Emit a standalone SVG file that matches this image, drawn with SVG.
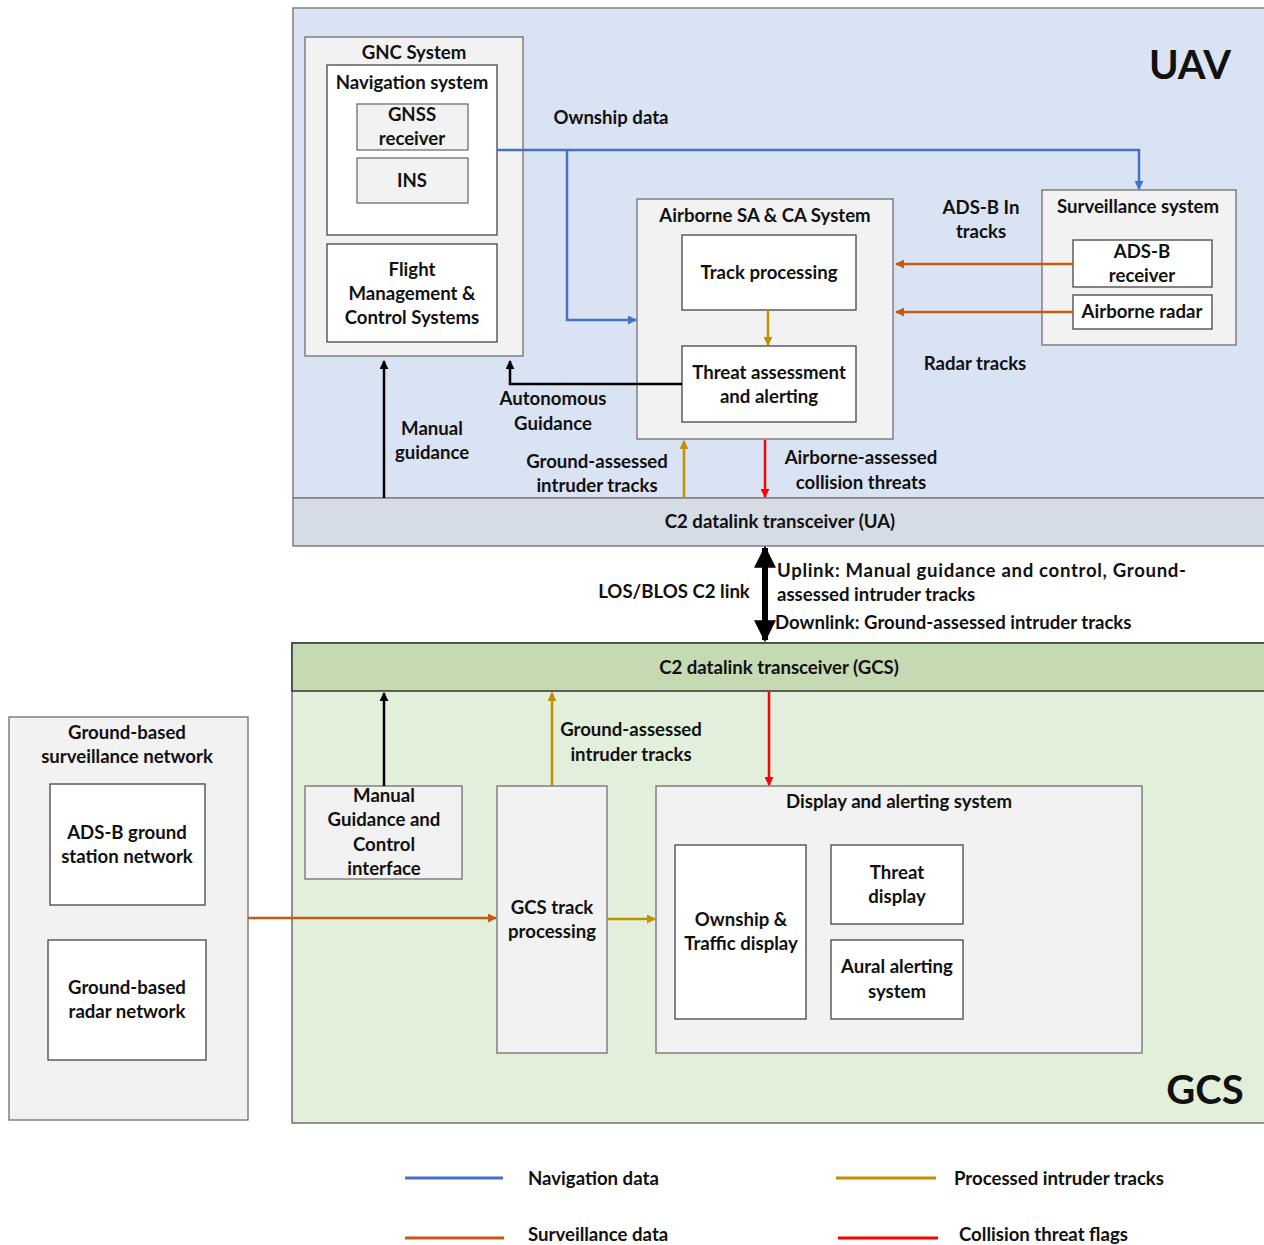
<svg xmlns="http://www.w3.org/2000/svg" width="1264" height="1245" viewBox="0 0 1264 1245">
<style>
text{font-family:Lato,"Open Sans","Liberation Sans",sans-serif;font-weight:700;font-size:18.6px;fill:#111;text-anchor:middle}
.l{text-anchor:start}
.box{fill:#f2f2f2;stroke:#6f6f6f;stroke-width:1.3}
.wb{fill:#fff;stroke:#444;stroke-width:1.3}
.nav{stroke:#4472c4;stroke-width:2.5;fill:none}
.sur{stroke:#c55a11;stroke-width:2.5;fill:none}
.pro{stroke:#bf9000;stroke-width:2.5;fill:none}
.col{stroke:#ff0000;stroke-width:2.5;fill:none}
.blk{stroke:#000;stroke-width:2.5;fill:none}
.big{font-size:40px}
</style>
<defs>
<marker id="ab" viewBox="0 0 10 10" refX="9" refY="5" markerWidth="9" markerHeight="9" markerUnits="userSpaceOnUse" orient="auto"><path d="M0,0L10,5L0,10z" fill="#4472c4"/></marker>
<marker id="ao" viewBox="0 0 10 10" refX="9" refY="5" markerWidth="9" markerHeight="9" markerUnits="userSpaceOnUse" orient="auto"><path d="M0,0L10,5L0,10z" fill="#c55a11"/></marker>
<marker id="ag" viewBox="0 0 10 10" refX="9" refY="5" markerWidth="9" markerHeight="9" markerUnits="userSpaceOnUse" orient="auto"><path d="M0,0L10,5L0,10z" fill="#bf9000"/></marker>
<marker id="ar" viewBox="0 0 10 10" refX="9" refY="5" markerWidth="9" markerHeight="9" markerUnits="userSpaceOnUse" orient="auto"><path d="M0,0L10,5L0,10z" fill="#ff0000"/></marker>
<marker id="ak" viewBox="0 0 10 10" refX="9" refY="5" markerWidth="9" markerHeight="9" markerUnits="userSpaceOnUse" orient="auto"><path d="M0,0L10,5L0,10z" fill="#000"/></marker>
<marker id="akb" viewBox="0 0 10 10" refX="9" refY="5" markerWidth="22" markerHeight="22" markerUnits="userSpaceOnUse" orient="auto-start-reverse"><path d="M0,0L10,5L0,10z" fill="#000"/></marker>
</defs>
<rect width="1264" height="1245" fill="#fff"/>

<g id="uav-region">
<rect x="293" y="8" width="980" height="490" fill="#dae3f3" stroke="#7f7f7f" stroke-width="1.5"/>
<text class="big" x="1190" y="79">UAV</text>
</g>
<g id="c2-ua">
<rect x="293" y="498" width="980" height="48" fill="#d6dce5" stroke="#7f7f7f" stroke-width="1.5"/>
<text x="780" y="528">C2 datalink transceiver (UA)</text>
</g>

<g id="gcs-region">
<rect x="292" y="643" width="980" height="480" fill="#e2efda" stroke="#6f6f6f" stroke-width="1.5"/>
<text class="big" x="1205" y="1104">GCS</text>
</g>
<g id="c2-gcs">
<rect x="292" y="643" width="980" height="48" fill="#c5d9b3" stroke="#333" stroke-width="1.5"/>
<text x="779" y="674">C2 datalink transceiver (GCS)</text>
</g>

<g id="gnc">
<rect class="box" x="305" y="37" width="218" height="319"/>
<text x="414" y="59">GNC System</text>
</g>
<g id="nav-system">
<rect class="wb" x="327" y="65" width="170" height="170"/>
<text x="412" y="89">Navigation system</text>
</g>
<g id="gnss">
<rect class="box" x="357" y="104" width="111" height="46"/>
<text x="412" y="121">GNSS</text>
<text x="412" y="145">receiver</text>
</g>
<g id="ins">
<rect class="box" x="357" y="158" width="111" height="45"/>
<text x="412" y="187">INS</text>
</g>
<g id="fmcs">
<rect class="wb" x="327" y="244" width="170" height="98"/>
<text x="412" y="276">Flight</text>
<text x="412" y="300">Management &amp;</text>
<text x="412" y="324">Control Systems</text>
</g>

<g id="sa-ca">
<rect class="box" x="637" y="199" width="256" height="240"/>
<text x="765" y="222">Airborne SA &amp; CA System</text>
</g>
<g id="track-proc">
<rect class="wb" x="682" y="235" width="174" height="75"/>
<text x="769" y="279">Track processing</text>
</g>
<g id="threat">
<rect class="wb" x="682" y="346" width="174" height="76"/>
<text x="769" y="379">Threat assessment</text>
<text x="769" y="403">and alerting</text>
</g>

<g id="surv">
<rect class="box" x="1042" y="190" width="194" height="155"/>
<text x="1138" y="213">Surveillance system</text>
</g>
<g id="adsb-rx">
<rect class="wb" x="1073" y="240" width="139" height="47"/>
<text x="1142" y="258">ADS-B</text>
<text x="1142" y="282">receiver</text>
</g>
<g id="radar">
<rect class="wb" x="1073" y="295" width="139" height="34"/>
<text x="1142" y="318">Airborne radar</text>
</g>

<g id="mgci">
<rect class="box" x="305" y="786" width="157" height="93"/>
<text x="384" y="802">Manual</text>
<text x="384" y="826">Guidance and</text>
<text x="384" y="851">Control</text>
<text x="384" y="875">interface</text>
</g>
<g id="gcs-track">
<rect class="box" x="497" y="786" width="110" height="267"/>
<text x="552" y="914">GCS track</text>
<text x="552" y="938">processing</text>
</g>
<g id="display">
<rect class="box" x="656" y="786" width="486" height="267"/>
<text x="899" y="808">Display and alerting system</text>
</g>
<g id="ownship-display">
<rect class="wb" x="675" y="845" width="131" height="174"/>
<text x="741" y="926">Ownship &amp;</text>
<text x="741" y="950">Traffic display</text>
</g>
<g id="threat-display">
<rect class="wb" x="831" y="845" width="132" height="79"/>
<text x="897" y="879">Threat</text>
<text x="897" y="903">display</text>
</g>
<g id="aural">
<rect class="wb" x="831" y="940" width="132" height="79"/>
<text x="897" y="973">Aural alerting</text>
<text x="897" y="998">system</text>
</g>

<g id="ground-net">
<rect class="box" x="9" y="717" width="239" height="403"/>
<text x="127" y="739">Ground-based</text>
<text x="127" y="763">surveillance network</text>
</g>
<g id="adsb-ground">
<rect class="wb" x="50" y="784" width="155" height="121"/>
<text x="127" y="839">ADS-B ground</text>
<text x="127" y="863">station network</text>
</g>
<g id="radar-ground">
<rect class="wb" x="48" y="940" width="158" height="120"/>
<text x="127" y="994">Ground-based</text>
<text x="127" y="1018">radar network</text>
</g>

<g id="connectors">
<path class="nav" d="M497,150H1139V189" marker-end="url(#ab)"/>
<path class="nav" d="M567,150V320H636" marker-end="url(#ab)"/>
<path class="sur" d="M1073,264H896" marker-end="url(#ao)"/>
<path class="sur" d="M1073,312H896" marker-end="url(#ao)"/>
<path class="pro" d="M768,310V345" marker-end="url(#ag)"/>
<path class="blk" d="M682,384H510V361" marker-end="url(#ak)"/>
<path class="blk" d="M384,498V361" marker-end="url(#ak)"/>
<path class="pro" d="M684,498V441" marker-end="url(#ag)"/>
<path class="col" d="M765,440V497" marker-end="url(#ar)"/>
<path d="M765,548V640" stroke="#000" stroke-width="6" fill="none" marker-start="url(#akb)" marker-end="url(#akb)"/>
<path class="blk" d="M384,786V693" marker-end="url(#ak)"/>
<path class="pro" d="M552,786V693" marker-end="url(#ag)"/>
<path class="col" d="M769,692V785" marker-end="url(#ar)"/>
<path class="pro" d="M607,919H655" marker-end="url(#ag)"/>
<path class="sur" d="M248,918H496" marker-end="url(#ao)"/>
</g>

<g id="labels">
<text x="611" y="124">Ownship data</text>
<text x="981" y="214">ADS-B In</text>
<text x="981" y="238">tracks</text>
<text x="975" y="370">Radar tracks</text>
<text x="553" y="405">Autonomous</text>
<text x="553" y="430">Guidance</text>
<text x="432" y="435">Manual</text>
<text x="432" y="459">guidance</text>
<text x="597" y="468">Ground-assessed</text>
<text x="597" y="492">intruder tracks</text>
<text x="861" y="464">Airborne-assessed</text>
<text x="861" y="489">collision threats</text>
<text x="674" y="598">LOS/BLOS C2 link</text>
<text class="l" x="777" y="577" textLength="409" lengthAdjust="spacing">Uplink:  Manual  guidance  and  control,  Ground-</text>
<text class="l" x="777" y="601">assessed intruder tracks</text>
<text class="l" x="775" y="629">Downlink: Ground-assessed intruder tracks</text>
<text x="631" y="736">Ground-assessed</text>
<text x="631" y="761">intruder tracks</text>
</g>

<g id="legend">
<line x1="405" y1="1178" x2="503" y2="1178" stroke="#4472c4" stroke-width="3"/>
<text class="l" x="528" y="1185">Navigation data</text>
<line x1="836" y1="1178" x2="936" y2="1178" stroke="#bf9000" stroke-width="3"/>
<text class="l" x="954" y="1185">Processed intruder tracks</text>
<line x1="405" y1="1238" x2="504" y2="1238" stroke="#c55a11" stroke-width="3"/>
<text class="l" x="528" y="1241">Surveillance data</text>
<line x1="838" y1="1238" x2="938" y2="1238" stroke="#ff0000" stroke-width="3"/>
<text class="l" x="959" y="1241">Collision threat flags</text>
</g>
</svg>
